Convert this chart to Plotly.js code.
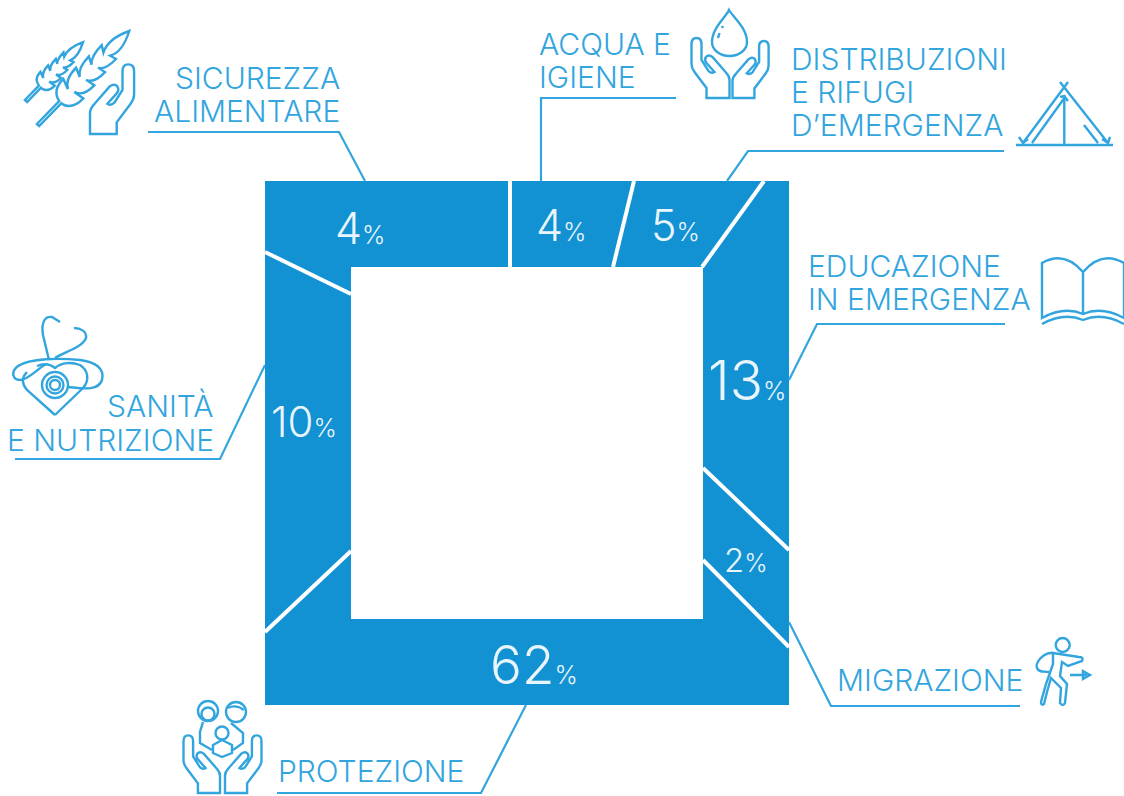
<!DOCTYPE html>
<html>
<head>
<meta charset="utf-8">
<script src="https://cdn.plot.ly/plotly-3.0.1.min.js"></script>
<style>html,body{margin:0;padding:0;background:#fff}#chart{width:1124px;height:796px}</style>
</head>
<body>
<div id="chart"></div>
<script>
// ---- data ----
const categories = ["Sicurezza alimentare","Acqua e igiene","Distribuzioni e rifugi d'emergenza","Educazione in emergenza","Migrazione","Protezione","Sanità e nutrizione"];
const shares = [4,4,5,13,2,62,10];
const labelLines = [["SICUREZZA","ALIMENTARE"],["ACQUA E","IGIENE"],["DISTRIBUZIONI","E RIFUGI","D’EMERGENZA"],["EDUCAZIONE","IN EMERGENZA"],["MIGRAZIONE"],["PROTEZIONE"],["SANITÀ","E NUTRIZIONE"]];

// ---- layout of the infographic, in picture units ----
const BLUE="#1291d3", INK="#33a5de", FONT="Inter, 'Liberation Sans', sans-serif";
const LBL=30;
const segX=[[265,510,510,351,351,265],[510,634,613,510],[634,764,703,613],[764,789,789,703,703],[703,789,789,703],[265,351,351,703,703,789,789,265],[265,351,351,265]];
const segY=[[181,181,267,267,294,252],[181,181,267,267],[181,181,267,267],[181,181,550,468,267],[468,550,647,560],[632,551,619,619,560,647,705,705],[252,294,551,632]];
const cuts=[[[510,181],[510,267]],[[634,181],[613,267]],[[764,181],[702,267]],[[703,468],[789,550]],[[703,560],[789,647]],[[351,551],[265,632]],[[351,294],[265,252]]];
const leaders=[[[148,132],[339,132],[365,181]],[[676,98],[541,98],[541,181]],[[1004,151],[748,151],[727,181]],[[1005,324],[817,324],[789,380]],[[1020,706],[831,706],[789,622]],[[277,793],[481,793],[526,705]],[[15,459],[220,459],[265,365]]];
const labelPos=[{x:342,a:"right",y:[78,111]},{x:537,a:"left",y:[44,77]},{x:789,a:"left",y:[59,92,125]},{x:806,a:"left",y:[266,299]},{x:835,a:"left",y:[680]},{x:276,a:"left",y:[771]},{x:216,a:"right",y:[406,440]}];
const pctPos=[{x:360,y:228,s:43},{x:561,y:225,s:43},{x:675,y:225,s:43},{x:747,y:380,s:55},{x:746,y:560,s:33},{x:534,y:665,s:53},{x:304,y:421,s:42}];

// ---- helpers for icons ----
function tf(path,o){
  const c=Math.cos(o.r||0),s=Math.sin(o.r||0),k=o.k||1,m=o.m?-1:1;
  return path.replace(/(-?[\d.]+),(-?[\d.]+)/g,(q,a,b)=>{
    const x=+a*k*m,y=+b*k;
    return ((x*c-y*s+o.x).toFixed(1))+","+((x*s+y*c+o.y).toFixed(1));
  });
}
function circ(cx,cy,r){return `M${cx-r},${cy} C${cx-r},${cy-r*.55} ${cx-r*.55},${cy-r} ${cx},${cy-r} C${cx+r*.55},${cy-r} ${cx+r},${cy-r*.55} ${cx+r},${cy} C${cx+r},${cy+r*.55} ${cx+r*.55},${cy+r} ${cx},${cy+r} C${cx-r*.55},${cy+r} ${cx-r},${cy+r*.55} ${cx-r},${cy} Z`;}
const HAND="M-23,0 L0,0 L0,-18 Q0,-22 -4,-26 L-17,-41 Q-21,-44 -23.5,-41 Q-25.5,-38 -23,-35 L-15,-26 Q-18,-24 -21,-27 L-28,-38 L-28,-54 Q-28,-60 -33,-60 Q-38,-60 -38,-54 L-38,-34 Q-38,-30 -35,-26 L-23,-10 Z";
function wheat(n,lo,hi,tip,w0,w1){ // one spike: u along the stem, v across
  const step=(hi-lo)/n; let top="",bot="";
  for(let i=0;i<n;i++){
    const u=lo+i*step, w=w0+(w1-w0)*i/(n-1), a=u.toFixed(1), e=(u+step*1.1).toFixed(1), b=(u+step*.85).toFixed(1), f=(u+step*.15).toFixed(1);
    top+=` Q${f},${-w} ${e},${-w} L${b},-3.5`;
    bot=` L${e},${w} Q${f},${w} ${a},3`+bot;
  }
  const mid=(hi+(tip-hi)*.35).toFixed(1);
  return `M0,-1.5 L${lo},-1.5`+top+` Q${mid},${-w1} ${tip},0 Q${mid},${w1} ${hi},3.5`+bot+` L${lo},1.5 L0,1.5 Z`;
}
const iconPaths=[
  // wheat + hand
  tf(wheat(4,32,100,131,14,10),{x:38,y:125,r:-0.80}),
  tf(wheat(4,20,60,82,10,7),{x:26,y:101,r:-0.80}),
  tf(HAND,{x:90,y:134,k:1.16,m:true}),
  // water + hands
  tf(HAND,{x:729.5,y:98}),
  tf(HAND,{x:732.5,y:98,k:.95,m:true}),
  "M729,10 C726,17 712,28 712,42 C712,50 720,56 729.5,56 C739,56 747,50 747,42 C747,28 733,17 729,10 Z",
  "M718,38 L719.5,33 M722,28 L723,26",
  // tent
  "M1016,145 L1113,145 M1023,143 L1068,82 M1060,82 L1108,143 M1032,143 L1064.3,98 L1064.3,145 M1084,125 L1098,143 M1019,137 L1023,143 L1028,139 M1110,137 L1108,143 L1102,139 M1060,97 L1064.3,96 L1068,101",
  // book
  "M1083,272 Q1064,250 1042,263 L1042,318 Q1064,306 1083,314 Q1102,306 1124,318 L1124,263 Q1102,250 1083,272 L1083,314 M1042,324 Q1064,312 1083,320 Q1102,312 1124,324",
  // stethoscope + heart
  "M55,415 L27,390 C22,384 21,378 27,372 M55,415 L83,388 C90,380 88,370 80,365 C72,362 62,362 55,368 C50,364 44,363 37,366",
  "M68,387 C80,388 98,392 102,380 C105,368 95,362 80,360 C60,358 30,358 18,366 C10,372 13,380 20,380 C28,380 36,370 46,364",
  "M49,360 L43,335 C41,322 45,316 52,317 L60,322 M55,358 C64,352 82,348 86,338 C87,331 80,328 74,328",
  circ(55,385,13), circ(55,385,8.5), circ(55,385,5),
  // migrant
  circ(1062.7,645,7),
  "M1053,653 L1066,655 L1079,657 Q1084,657 1082,661 L1068,666 L1062,662 L1060,676 L1067,684 L1065,703 Q1063,707 1060,703 L1061,688 L1051,678 L1047,692 L1044,704 Q1041,706 1041,702 L1046,684 L1053,664 Z",
  "M1053,653 C1043,652 1035,663 1037,668 C1039,673 1044,671 1049,672",
  "M1070,675 L1087,675 M1083,671 L1090,675 L1083,679 Z",
  // family + hands
  tf(HAND,{x:220,y:793,k:.96}),
  tf(HAND,{x:225,y:793,k:.96,m:true}),
  circ(208,711,10), circ(208,714,6.5), circ(236,712,10), "M228,708 Q236,704 244,710",
  circ(222,733,6.5), "M213,745 L222,740 L232,745 L232,753 L222,757 L213,753 Z",
  "M203,722 L200,732 L200,743 L212,750 M231,723 L243,733 L243,743 L233,750"
];

// ---- traces ----
const traces=[];
categories.forEach((c,i)=>{
  traces.push({type:"scatter",mode:"lines",name:c,x:segX[i].concat(segX[i][0]),y:segY[i].concat(segY[i][0]),fill:"toself",fillcolor:BLUE,line:{color:BLUE,width:0},hoverinfo:"name"});
});
cuts.forEach(s=>traces.push({type:"scatter",mode:"lines",x:s.map(p=>p[0]),y:s.map(p=>p[1]),line:{color:"#fff",width:4},hoverinfo:"skip"}));
leaders.forEach(s=>traces.push({type:"scatter",mode:"lines",x:s.map(p=>p[0]),y:s.map(p=>p[1]),line:{color:INK,width:2.2},hoverinfo:"skip"}));

// ---- text ----
const annotations=[];
labelLines.forEach((lines,i)=>lines.forEach((t,j)=>{
  annotations.push({x:labelPos[i].x,y:labelPos[i].y[j],text:t,showarrow:false,xanchor:labelPos[i].a,yanchor:"middle",xref:"x",yref:"y",font:{family:FONT,size:LBL,color:INK,weight:300}});
}));
shares.forEach((v,i)=>{
  const p=pctPos[i];
  annotations.push({x:p.x,y:p.y,text:`${v}<span style="font-size:25px">%</span>`,showarrow:false,xanchor:"center",yanchor:"middle",xref:"x",yref:"y",font:{family:FONT,size:p.s,color:"#e8f5fc",weight:300}});
});

const layout={
  width:1124,height:796,margin:{l:0,r:0,t:0,b:0,pad:0},showlegend:false,
  paper_bgcolor:"#fff",plot_bgcolor:"#fff",
  xaxis:{range:[0,1124],visible:false,fixedrange:true},
  yaxis:{range:[796,0],visible:false,fixedrange:true},
  shapes:iconPaths.map(p=>({type:"path",path:p,xref:"x",yref:"y",line:{color:INK,width:2.4},fillcolor:"rgba(0,0,0,0)",layer:"above"})),
  annotations
};
Plotly.newPlot("chart",traces,layout,{displayModeBar:false,staticPlot:true});
</script>
</body>
</html>
